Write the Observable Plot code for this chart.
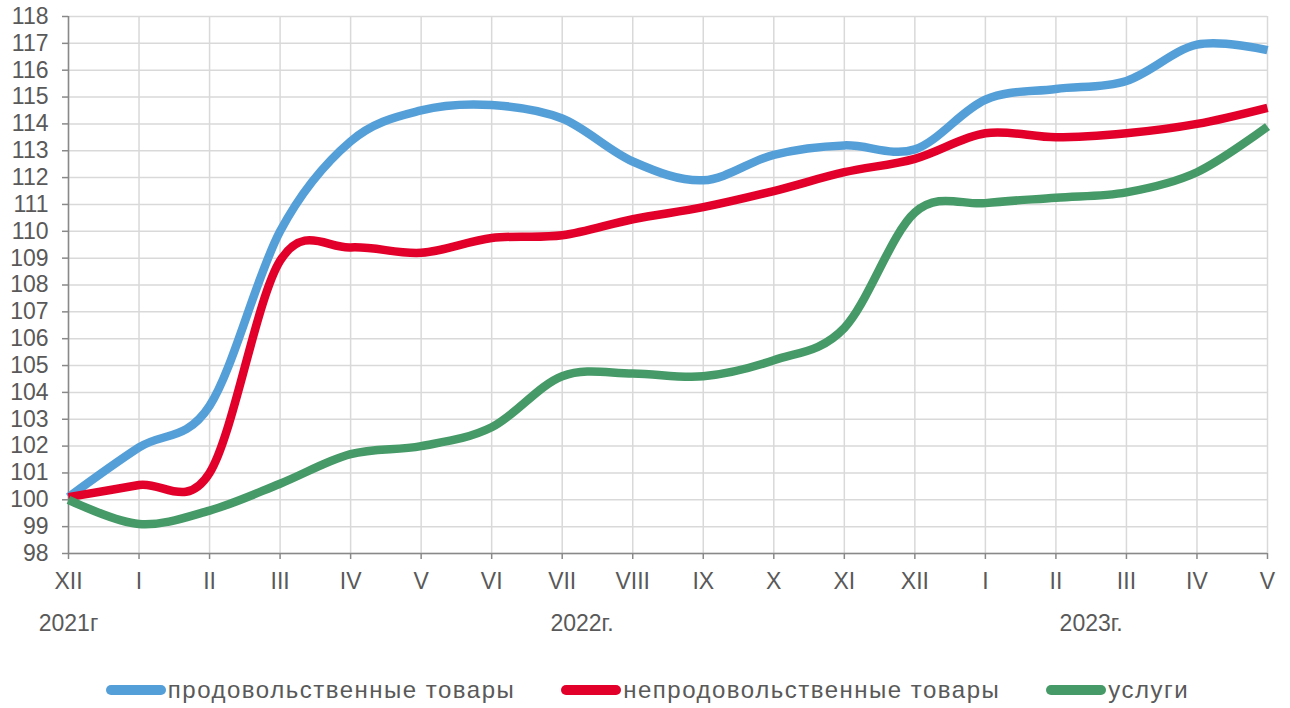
<!DOCTYPE html>
<html>
<head>
<meta charset="utf-8">
<script src="https://cdn.jsdelivr.net/npm/d3@7"></script>
<script src="https://cdn.jsdelivr.net/npm/@observablehq/plot@0.6"></script>
<style>
  html, body { margin: 0; padding: 0; background: #fff; }
  body { width: 1290px; height: 708px; overflow: hidden; font-family: "Liberation Sans", Arial, sans-serif; }
  #legend { display: flex; justify-content: center; align-items: center; height: 40px; margin-top: 10px; margin-left: 5px; font-size: 24px; letter-spacing: 1.5px; color: #595959; }
  .item { display: flex; align-items: center; margin: 0 23px; }
  .sw { width: 60px; height: 10px; border-radius: 5px; margin-right: 2px; }
</style>
</head>
<body>
<div id="chart"></div>
<div id="legend"></div>
<script>
const months = ["XII","I","II","III","IV","V","VI","VII","VIII","IX","X","XI","XII","I","II","III","IV","V"];
const seriesNames = ["продовольственные товары","непродовольственные товары","услуги"];
const food     = [100.1, 101.95, 103.5, 110.0, 113.35, 114.5, 114.7, 114.2, 112.6, 111.9, 112.85, 113.2, 113.05, 114.9, 115.3, 115.6, 116.95, 116.75];
const nonfood  = [100.1, 100.55, 101.0, 108.9, 109.4, 109.2, 109.75, 109.85, 110.45, 110.9, 111.5, 112.2, 112.7, 113.65, 113.5, 113.65, 114.0, 114.6];
const services = [100.0, 99.1, 99.6, 100.6, 101.7, 102.0, 102.7, 104.6, 104.7, 104.6, 105.2, 106.4, 110.7, 111.05, 111.25, 111.45, 112.2, 113.9];
const yearLabels = ["2021г", "2022г.", "2023г."];
const yearLabelAt = [0, 7.28, 14.5];
const colors = ["#559FD8", "#E2002B", "#469A68"];

const seriesValues = [food, nonfood, services];
const rows = seriesValues.flatMap((vals, s) => vals.map((v, i) => ({series: seriesNames[s], i, v})));

const axisColor = "#898989";
const gridColor = "#D9D9D9";
const textColor = "#595959";
const fs = 23;

const chart = Plot.plot({
  width: 1290,
  height: 660,
  marginLeft: 68,
  marginRight: 23,
  marginTop: 16,
  marginBottom: 107,
  style: {fontFamily: "'Liberation Sans', Arial, sans-serif", fontSize: fs + "px", color: textColor, background: "#fff"},
  x: {type: "linear", domain: [0, months.length - 1]},
  y: {domain: [98, 118]},
  color: {domain: seriesNames, range: colors},
  marks: [
    Plot.gridX(d3.range(months.length), {stroke: gridColor, strokeOpacity: 1, strokeWidth: 1.5}),
    Plot.gridY(d3.range(98, 119), {stroke: gridColor, strokeOpacity: 1, strokeWidth: 1.5}),
    Plot.axisX(d3.range(months.length), {tickFormat: (d) => months[d], tickSize: 6, tickPadding: 13, stroke: axisColor, strokeWidth: 1.5, fill: textColor, fontSize: fs, label: null}),
    Plot.axisY(d3.range(98, 119), {tickSize: 6, tickPadding: 14, stroke: axisColor, strokeWidth: 1.5, fill: textColor, fontSize: fs, label: null}),
    Plot.ruleX([0], {stroke: axisColor, strokeWidth: 1.5}),
    Plot.ruleY([98], {stroke: axisColor, strokeWidth: 1.5}),
    Plot.line(rows, {x: "i", y: "v", z: "series", stroke: "series", strokeWidth: 8.5, curve: "cardinal", strokeLinejoin: "round", strokeLinecap: "butt"}),
    Plot.text(yearLabels, {x: (d, i) => yearLabelAt[i], frameAnchor: "bottom", dy: 77, text: (d) => d, fill: textColor, fontSize: fs})
  ]
});
document.getElementById("chart").appendChild(chart);

const legend = document.getElementById("legend");
seriesNames.forEach((name, i) => {
  const item = document.createElement("div");
  item.className = "item";
  const sw = document.createElement("div");
  sw.className = "sw";
  sw.style.background = colors[i];
  const label = document.createElement("span");
  label.textContent = name;
  item.appendChild(sw);
  item.appendChild(label);
  legend.appendChild(item);
});
</script>
</body>
</html>
